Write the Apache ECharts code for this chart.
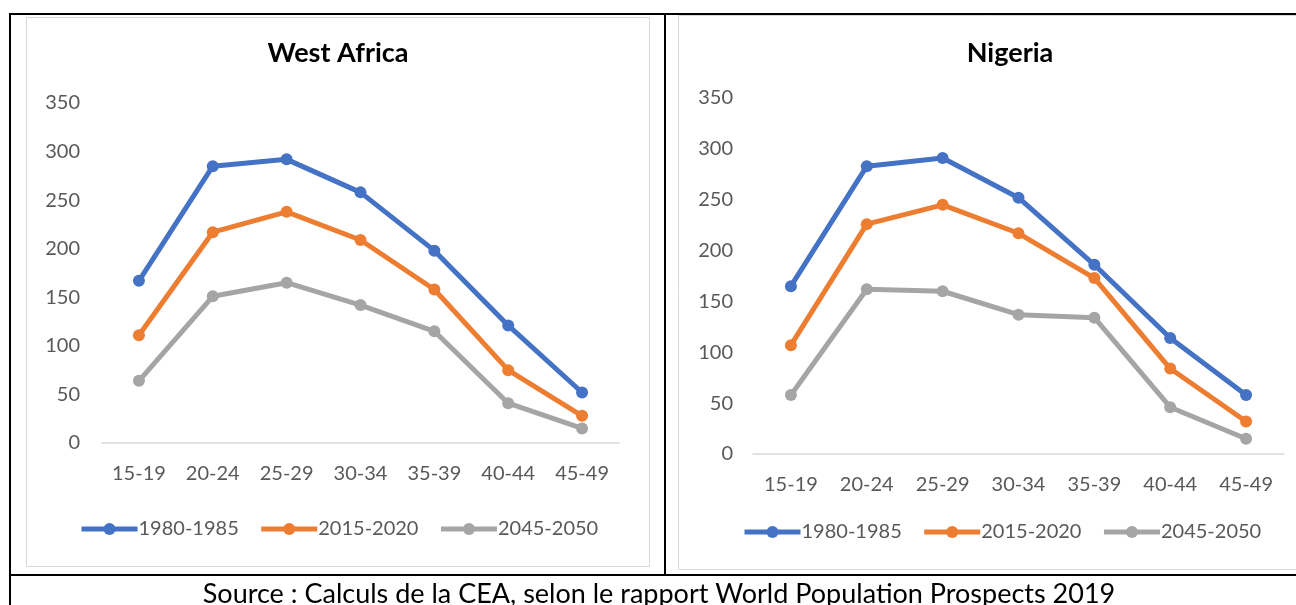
<!DOCTYPE html>
<html>
<head>
<meta charset="utf-8">
<script src="https://cdn.jsdelivr.net/npm/echarts@6/dist/echarts.min.js"></script>
<style>
  html, body { margin: 0; padding: 0; background: #fff; }
  #chart { width: 1296px; height: 605px; }
</style>
</head>
<body>
<div id="chart"></div>
<script>
// Age groups on the horizontal axis
const ageGroups = ['15-19', '20-24', '25-29', '30-34', '35-39', '40-44', '45-49'];
// Periods shown as the three lines
const periods = ['1980-1985', '2015-2020', '2045-2050'];

// Age-specific fertility rates, West Africa
const westAfrica1980 = [167, 285, 292, 258, 198, 121, 52];
const westAfrica2015 = [111, 217, 238, 209, 158, 75, 28];
const westAfrica2045 = [64, 151, 165, 142, 115, 41, 15];

// Age-specific fertility rates, Nigeria
const nigeria1980 = [165, 283, 291, 252, 186, 114, 58];
const nigeria2015 = [107, 226, 245, 217, 173, 84, 32];
const nigeria2045 = [58, 162, 160, 137, 134, 46, 15];

const panelTitles = ['West Africa', 'Nigeria'];
const sourceNote = 'Source : Calculs de la CEA, selon le rapport World Population Prospects 2019';

const colors = ['#4472C4', '#ED7D31', '#A5A5A5'];
const FONT = 'Lato, "Open Sans", sans-serif';
const tickColor = '#595959';

const panels = [
  { grid: { left: 102, top: 103, width: 517, height: 340 }, data: [westAfrica1980, westAfrica2015, westAfrica2045] },
  { grid: { left: 753, top: 98, width: 531, height: 356 }, data: [nigeria1980, nigeria2015, nigeria2045] }
];

const chart = echarts.init(document.getElementById('chart'), null, { renderer: 'canvas' });

const xAxes = panels.map((p, i) => ({
  type: 'category',
  gridIndex: i,
  data: ageGroups,
  boundaryGap: true,
  axisLine: { show: true, lineStyle: { color: '#D9D9D9', width: 1.5 } },
  axisTick: { show: false },
  axisLabel: { color: tickColor, fontFamily: FONT, fontSize: 20, margin: 21 },
  splitLine: { show: false }
}));

const yAxes = panels.map((p, i) => ({
  type: 'value',
  gridIndex: i,
  min: 0,
  max: 350,
  interval: 50,
  axisLine: { show: false },
  axisTick: { show: false },
  axisLabel: { color: tickColor, fontFamily: FONT, fontSize: 20, margin: i === 0 ? 22 : 20 },
  splitLine: { show: false }
}));

const series = [];
panels.forEach((p, i) => {
  p.data.forEach((values, k) => {
    series.push({
      name: periods[k],
      type: 'line',
      xAxisIndex: i,
      yAxisIndex: i,
      data: values,
      symbol: 'circle',
      symbolSize: 12,
      color: colors[k],
      lineStyle: { width: 5, color: colors[k] },
      itemStyle: { color: colors[k] },
      animation: false
    });
  });
});

const legendBase = {
  data: periods,
  itemWidth: 56,
  itemHeight: 15,
  itemGap: 20,
  lineStyle: { width: 5 },
  textStyle: { color: tickColor, fontFamily: FONT, fontSize: 20, padding: [0, 0, 0, -4] },
  selectedMode: false
};

const frameLine = (x1, y1, x2, y2, color, w) => ({
  type: 'line',
  shape: { x1, y1, x2, y2 },
  style: { stroke: color, lineWidth: w },
  silent: true
});

const frameRect = (x, y, w, h) => ({
  type: 'rect',
  shape: { x, y, width: w, height: h },
  style: { fill: 'none', stroke: '#D9D9D9', lineWidth: 1 },
  silent: true,
  z: -1
});

const textEl = (text, x, y, size, weight, color) => ({
  type: 'text',
  x, y,
  style: {
    text,
    fill: color,
    font: `${weight} ${size}px ${FONT}`,
    textAlign: 'center',
    textVerticalAlign: 'middle'
  },
  silent: true
});

chart.setOption({
  backgroundColor: '#ffffff',
  animation: false,
  grid: panels.map(p => Object.assign({ containLabel: false }, p.grid)),
  xAxis: xAxes,
  yAxis: yAxes,
  series,
  legend: [
    Object.assign({}, legendBase, { left: 74, top: 514 }),
    Object.assign({}, legendBase, { left: 737, top: 517 })
  ],
  graphic: [
    // chart-area boxes
    frameRect(26.5, 17.5, 623, 549),
    frameRect(678.5, 15.5, 640, 554),
    // table frame
    frameLine(9, 14, 1296, 14, '#000', 2),
    frameLine(10, 13, 10, 605, '#000', 2),
    frameLine(665, 13, 665, 575, '#000', 2),
    frameLine(9, 575, 1296, 575, '#000', 2),
    // panel titles
    textEl(panelTitles[0], 338, 53, 27, 'bold', '#000'),
    textEl(panelTitles[1], 1010, 53, 27, 'bold', '#000'),
    // source line
    textEl(sourceNote, 659, 594, 27, 'normal', '#000')
  ]
});
</script>
</body>
</html>
